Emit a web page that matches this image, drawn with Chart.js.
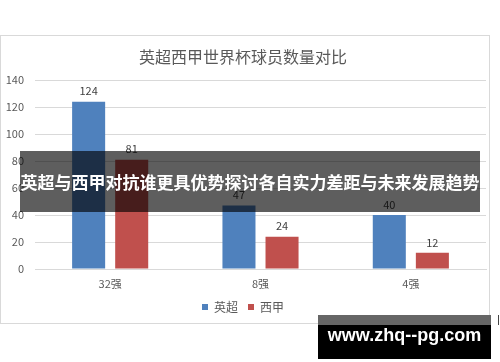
<!DOCTYPE html>
<html>
<head>
<meta charset="utf-8">
<script src="https://cdn.jsdelivr.net/npm/chart.js@4/dist/chart.umd.min.js"></script>
<style>
  html, body { margin: 0; padding: 0; background: #fff; }
  #wrap { position: relative; width: 500px; height: 362px; overflow: hidden; }
  #frame { position: absolute; left: 0; top: 35px; width: 488px; height: 287px; border: 1px solid #d9d9d9; }
  #chart { position: absolute; left: 0; top: 0; }
  #banner {
    position: absolute; left: 20px; top: 151px; width: 460px; height: 61px;
    background: rgba(0,0,0,0.63); color: #fff;
    font: bold 17px 'Noto Sans CJK SC', sans-serif;
    line-height: 61px; text-align: center; white-space: nowrap;
  }
  #mark { position: absolute; left: 318px; top: 315px; width: 173px; height: 44px; background: #000; }
  #mark .strip { position: absolute; left: 0; top: 0; width: 100%; height: 10px; background: #666; }
  #mark .txt {
    position: absolute; left: 0; top: 10px; width: 100%; height: 34px; line-height: 34px;
    text-align: center; color: #fff; white-space: nowrap;
    font: bold 18px 'Liberation Sans', Arial, sans-serif;
  }
  #tick { position: absolute; left: 498px; top: 315px; width: 1px; height: 10px; background: #444; }
</style>
</head>
<body>
<div id="wrap">
  <div id="frame"></div>
  <canvas id="chart" width="500" height="362"></canvas>
  <div id="banner">英超与西甲对抗谁更具优势探讨各自实力差距与未来发展趋势</div>
  <div id="mark"><div class="strip"></div><div class="txt">www.zhq--pg.com</div></div>
  <div id="tick"></div>
</div>
<script>
'use strict';

/* DATA */
const stages = ['32强', '8强', '4强'];
const premierLeague = [124, 47, 40];
const laLiga = [81, 24, 12];
const yTicks = [0, 20, 40, 60, 80, 100, 120, 140];

const FONT = "'Noto Sans CJK SC', sans-serif";
const TXT = '#595959';

/* value labels above each bar */
const barLabels = {
  id: 'barLabels',
  afterDatasetsDraw(chart) {
    const ctx = chart.ctx;
    ctx.save();
    ctx.font = '11px ' + FONT;
    ctx.fillStyle = '#404040';
    ctx.textAlign = 'center';
    ctx.textBaseline = 'bottom';
    chart.data.datasets.forEach((ds, i) => {
      chart.getDatasetMeta(i).data.forEach((bar, j) => {
        ctx.fillText(String(ds.data[j]), bar.x, bar.y - 5);
      });
    });
    ctx.restore();
  }
};

new Chart(document.getElementById('chart'), {
  type: 'bar',
  data: {
    labels: stages,
    datasets: [
      { label: '英超', data: premierLeague, backgroundColor: '#4f81bd', categoryPercentage: 0.573, barPercentage: 0.767 },
      { label: '西甲', data: laLiga, backgroundColor: '#c0504d', categoryPercentage: 0.573, barPercentage: 0.767 }
    ]
  },
  options: {
    responsive: false,
    animation: false,
    layout: { padding: { left: 0, right: 14, top: 47, bottom: 39 } },
    plugins: {
      title: {
        display: true,
        text: '英超西甲世界杯球员数量对比',
        color: TXT,
        font: { family: FONT, size: 16, weight: 'normal' },
        padding: { top: 0, bottom: 14 }
      },
      legend: {
        position: 'bottom',
        labels: { color: TXT, boxWidth: 6, boxHeight: 6, padding: 10, font: { family: FONT, size: 12 } }
      },
      tooltip: { enabled: false }
    },
    scales: {
      x: {
        afterFit: s => { s.height = 22; },
        grid: { display: false, drawTicks: false },
        border: { color: '#d9d9d9' },
        ticks: { color: TXT, font: { family: FONT, size: 11 }, padding: 8 }
      },
      y: {
        min: 0, max: 140,
        afterBuildTicks: s => { s.ticks = yTicks.map(v => ({ value: v })); },
        afterFit: s => { s.width = 35; },
        grid: { color: '#d9d9d9', drawTicks: false },
        border: { display: false },
        ticks: { color: TXT, font: { family: FONT, size: 11 }, padding: 11 }
      }
    }
  },
  plugins: [barLabels]
});
</script>
</body>
</html>
